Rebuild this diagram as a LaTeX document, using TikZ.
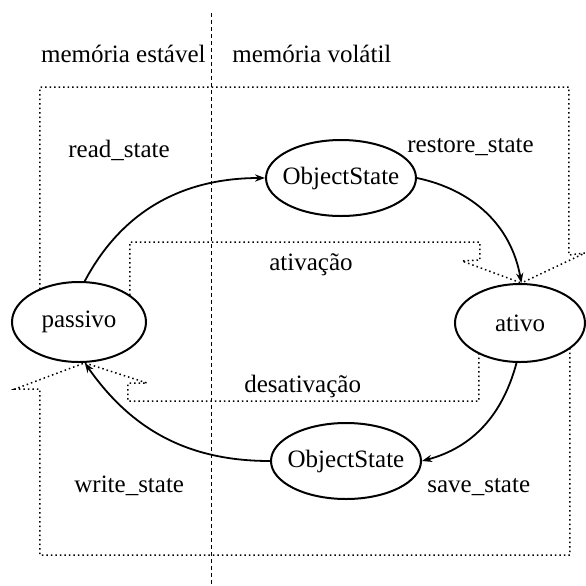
\documentclass[tikz,border=0pt]{standalone}
\usepackage{fontspec}
\setmainfont{Liberation Serif}
\usetikzlibrary{shapes.geometric,arrows.meta}
\begin{document}
\begin{tikzpicture}[x=0.5pt,y=0.5pt,
  state/.style={draw,ellipse,line width=1pt,inner sep=0pt,font=\fontsize{12.5}{15}\selectfont},
  lbl/.style={inner sep=0pt,font=\fontsize{12.5}{15}\selectfont},
  arc/.style={line width=0.9pt,-{Stealth[length=5pt,width=3.6pt]}},
  dots/.style={line width=0.75pt,dash pattern=on 0.75pt off 1.5pt},
  divider/.style={line width=0.5pt,dash pattern=on 2pt off 1.5pt}]
\useasboundingbox (0,0) rectangle (586,-586);
\fill[white] (0,0) rectangle (586,-586);

% divider between stable and volatile memory
\coordinate (dtop) at (212,-13);
\coordinate (dbot) at (212,-586);
\draw[divider] (dtop) -- (dbot);
\node[lbl,anchor=base east] (lstab) at (206,-62) {memória estável};
\node[lbl,anchor=base west] (lvol) at (232,-62) {memória volátil};

% states
\node[state,minimum width=67pt,minimum height=40pt] (pas) at (79,-322) {\makebox[0pt]{passivo}};
\node[state,minimum width=65pt,minimum height=39pt] (ati) at (520,-323) {\makebox[0pt]{ativo}};
\node[state,minimum width=75pt,minimum height=38pt] (ost) at (341,-178) {\makebox[0pt]{ObjectState}};
\node[state,minimum width=75pt,minimum height=38pt] (osb) at (346,-461) {\makebox[0pt]{ObjectState}};

% transitions
\draw[arc] (pas.82) to[out=62,in=180] (ost.west);
\draw[arc] (ost.east) to[out=-12,in=100] (ati.88);
\draw[arc] (ati.-95) to[out=-105,in=15] (osb.east);
\draw[arc] (osb.west) to[out=180,in=-55] (pas.-82);

% hollow dotted arrow: ativacao
\draw[dots] (40,-289) -- (40,-87) -- (569,-87) -- (569,-255) -- (585,-253) -- (ati.88);
\draw[dots] (130,-295) -- (130,-242) -- (480,-242) -- (480,-260) -- (462,-261) -- (ati.88);
% hollow dotted arrow: desativacao
\draw[dots] (570,-348) -- (570,-555) -- (40,-555) -- (40,-389) -- (15,-389) -- (pas.-82);
\draw[dots] (479,-353) -- (479,-401) -- (128,-401) -- (128,-383) -- (147,-383) -- (pas.-82);

% labels
\node[lbl,anchor=base west] (lread) at (68,-157) {read\_state};
\node[lbl,anchor=base west] (lrest) at (407,-152) {restore\_state};
\node[lbl,anchor=base] (lativ) at (311,-270) {ativação};
\node[lbl,anchor=base west] (ldes) at (244,-392) {desativação};
\node[lbl,anchor=base west] (lwrite) at (74,-492) {write\_state};
\node[lbl,anchor=base west] (lsave) at (427,-492) {save\_state};
\end{tikzpicture}
\end{document}
